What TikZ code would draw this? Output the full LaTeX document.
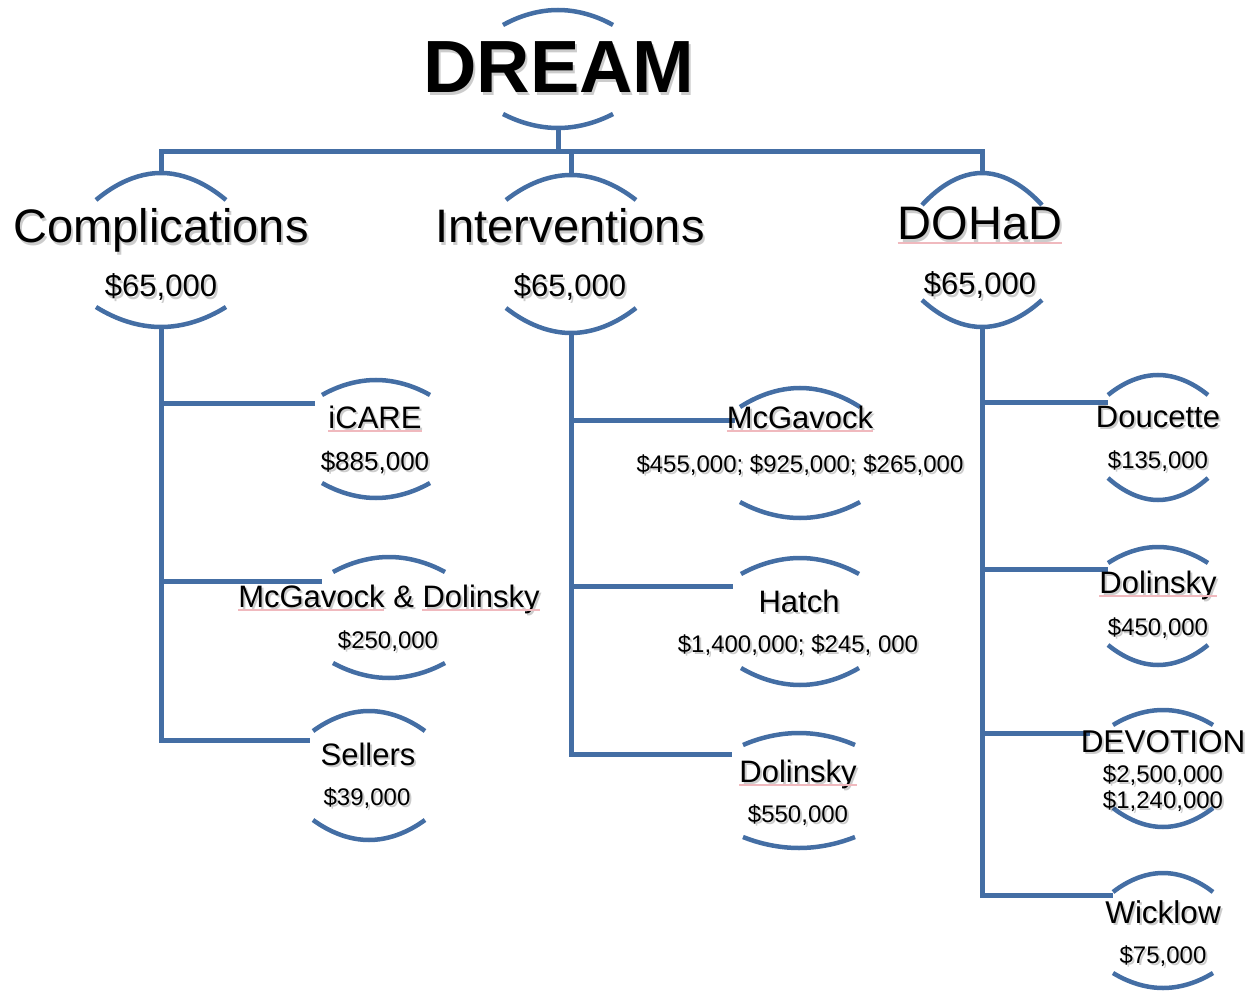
\documentclass[tikz,border=0pt]{standalone}
\usepackage{fontspec}
\setmainfont{Liberation Sans}
\usetikzlibrary{calc}
\definecolor{treeblue}{RGB}{68,110,164}
\definecolor{spellpink}{RGB}{240,185,190}
\tikzset{
  conn/.style={draw=treeblue,line width=5pt,line join=miter},
  arcs/.style={draw=treeblue,line width=4.5pt},
  txt/.style={inner sep=0pt,outer sep=0pt,anchor=base,text=black},
  shad/.style={inner sep=0pt,outer sep=0pt,anchor=base,text=black,text opacity=0.2},
  spell/.style={draw=spellpink,line width=1.1pt}
}
\newcommand\brk[7]{%
  \coordinate (#1T) at (#2,#5);
  \coordinate (#1B) at (#2,#7);
  \draw[arcs] ({#2-#3},#4) parabola bend (#1T) ({#2+#3},#4);
  \draw[arcs] ({#2-#3},#6) parabola bend (#1B) ({#2+#3},#6);
}
\newcommand\lbl[6]{%
  \node[shad,font=#5\fontsize{#4}{#4}\selectfont] at ({#2+2},{#3+2.5}) {#6};
  \node[txt,font=#5\fontsize{#4}{#4}\selectfont] (#1) at (#2,#3) {#6};
}
\begin{document}
\begin{tikzpicture}[x=1pt,y=-1pt]
\useasboundingbox (0,0) rectangle (1253,992);
% arcs (brackets)
\brk{dream}{558}{55}{25}{10}{114}{128}
\brk{comp}{161}{65}{200}{173}{307}{327}
\brk{int}{571}{65}{200}{175}{308}{333}
\brk{doh}{982}{60}{205}{173}{300}{327}
\brk{icare}{376}{54}{395}{380}{483}{498}
\brk{mcgd}{389}{56}{572}{557}{663}{678}
\brk{sell}{369}{56}{731}{711}{820}{840}
\brk{mcg}{800}{60}{407}{388}{502}{518}
\brk{hatch}{800}{59}{574}{558}{668}{685}
\brk{doli}{799}{56}{745}{733}{837}{848}
\brk{douc}{1158}{50}{395}{375}{478}{500}
\brk{dold}{1158}{50}{563}{547}{645}{665}
\brk{devo}{1163}{50}{725}{710}{808}{827}
\brk{wick}{1163}{50}{892}{873}{973}{988}
% branch end points
\coordinate (bar) at (0,152);
\coordinate (icareW) at (315,403);
\coordinate (mcgdW) at (322,581);
\coordinate (sellW) at (310,740);
\coordinate (mcgW) at (735,420);
\coordinate (hatchW) at (733,586);
\coordinate (doliW) at (732,754);
\coordinate (doucW) at (1108,402);
\coordinate (doldW) at (1108,569);
\coordinate (devoW) at (1090,733);
\coordinate (wickW) at (1113,895);
% connectors
\draw[conn] (dreamB) -- (dreamB |- bar);
\draw[conn] (compT) -- (compT |- bar) -- (dohT |- bar) -- (dohT);
\draw[conn] (intT) -- (intT |- bar);
\draw[conn] (compB) |- (sellW);
\draw[conn] (compB |- icareW) -- (icareW);
\draw[conn] (compB |- mcgdW) -- (mcgdW);
\draw[conn] (intB) |- (doliW);
\draw[conn] (intB |- mcgW) -- (mcgW);
\draw[conn] (intB |- hatchW) -- (hatchW);
\draw[conn] (dohB) |- (wickW);
\draw[conn] (dohB |- doucW) -- (doucW);
\draw[conn] (dohB |- doldW) -- (doldW);
\draw[conn] (dohB |- devoW) -- (devoW);
% texts
\lbl{dream}{559}{93}{74}{\bfseries}{DREAM}
\lbl{comp}{161}{243}{47}{}{Complications}
\lbl{int}{570}{243}{47}{}{Interventions}
\lbl{doh}{980}{240}{47}{}{DOHaD}
\lbl{compA}{161}{297}{31}{}{\$65,000}
\lbl{intA}{570}{297}{31}{}{\$65,000}
\lbl{dohA}{980}{295}{31}{}{\$65,000}
\lbl{icare}{375}{428}{31}{}{iCARE}
\lbl{icareA}{375}{470}{26}{}{\$885,000}
\lbl{mcgd}{389}{607}{31}{}{McGavock \& Dolinsky}
\lbl{mcgdA}{388}{648}{24}{}{\$250,000}
\lbl{sell}{368}{765}{31}{}{Sellers}
\lbl{sellA}{367}{805}{24}{}{\$39,000}
\lbl{mcg}{800}{428}{31}{}{McGavock}
\lbl{mcgA}{800}{472}{24}{}{\$455,000; \$925,000; \$265,000}
\lbl{hatch}{799}{612}{31}{}{Hatch}
\lbl{hatchA}{798}{652}{24}{}{\$1,400,000; \$245, 000}
\lbl{doli}{798}{782}{31}{}{Dolinsky}
\lbl{doliA}{798}{822}{24}{}{\$550,000}
\lbl{douc}{1158}{427}{31}{}{Doucette}
\lbl{doucA}{1158}{468}{24}{}{\$135,000}
\lbl{dold}{1158}{593}{31}{}{Dolinsky}
\lbl{doldA}{1158}{635}{24}{}{\$450,000}
\lbl{devo}{1163}{752}{31.5}{}{DEVOTION}
\lbl{devoA}{1163}{782}{24}{}{\$2,500,000}
\lbl{devoB}{1163}{808}{24}{}{\$1,240,000}
\lbl{wick}{1163}{923}{31.5}{}{Wicklow}
\lbl{wickA}{1163}{963}{24}{}{\$75,000}
% spell-check underlines
\draw[spell] ($(doh.base west)+(0,3)$) -- ($(doh.base east)+(0,3)$);
\draw[spell] ($(icare.base west)+(0,3)$) -- ($(icare.base east)+(0,3)$);
\draw[spell] ($(mcgd.base west)+(0,3)$) -- ($(mcgd.base west)+(146,3)$);
\draw[spell] ($(mcgd.base west)+(184,3)$) -- ($(mcgd.base east)+(0,3)$);
\draw[spell] ($(mcg.base west)+(0,3)$) -- ($(mcg.base east)+(0,3)$);
\draw[spell] ($(doli.base west)+(0,3)$) -- ($(doli.base east)+(0,3)$);
\draw[spell] ($(dold.base west)+(0,3)$) -- ($(dold.base east)+(0,3)$);
\end{tikzpicture}
\end{document}
